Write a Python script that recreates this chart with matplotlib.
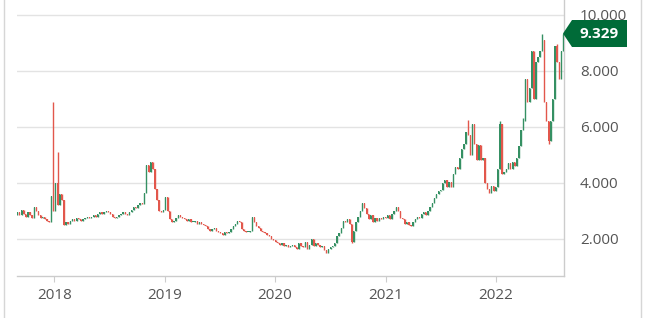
import matplotlib
matplotlib.use("Agg")
import matplotlib.pyplot as plt
import matplotlib.patches as patches
import matplotlib.dates as mdates
from matplotlib.lines import Line2D
from matplotlib.transforms import IdentityTransform
import pandas as pd

plt.rcParams['font.family'] = ['Open Sans', 'DejaVu Sans']

# weekly closes (Fridays)
first_open = 2850
close_2017 = [2950, 2850, 3050, 2900, 2800, 2950, 2850, 2750, 3150, 3000, 2850, 2750,
              2800, 2700, 2650, 2600, 3550, 3000]
close_2018 = [4000, 3200, 3600, 3400,
              2500, 2600, 2550, 2650,
              2700, 2650, 2750, 2700, 2650,
              2700, 2750, 2800, 2750,
              2800, 2850, 2800, 2900,
              2950, 2900, 2950, 3000, 2950,
              2900, 2800, 2750, 2800,
              2850, 2900, 2950, 2900, 2850,
              2950, 3050, 3150, 3100,
              3200, 3300, 3250, 3650,
              4650, 4400, 4750, 4500, 3800,
              3400, 3000, 2950, 3050]
close_2019 = [3500, 3000, 2700, 2600,
              2650, 2750, 2850, 2800,
              2750, 2700, 2650, 2700, 2600,
              2600, 2650, 2550, 2600,
              2550, 2500, 2450, 2350, 2300,
              2350, 2400, 2300, 2250,
              2200, 2150, 2250, 2200,
              2250, 2350, 2450, 2550, 2650,
              2600, 2350, 2300, 2250,
              2250, 2300, 2800, 2600,
              2450, 2400, 2300, 2250, 2200,
              2150, 2100, 2000, 1950]
close_2020 = [1900, 1850, 1800, 1850, 1750,
              1800, 1700, 1750, 1800,
              1700, 1650, 1850, 1750,
              1700, 1900, 1650, 1800,
              2000, 1750, 1850, 1800, 1700,
              1750, 1600, 1500, 1650,
              1700, 1750, 1850, 2100, 2200,
              2400, 2650, 2600, 2700,
              2550, 1900, 2300, 2600,
              2800, 3000, 3300, 3100, 2900,
              2700, 2850, 2600, 2750,
              2650, 2750, 2700, 2800]
close_2021 = [2750, 2850, 2700, 2900, 3000,
              3150, 3000, 2750, 2700,
              2550, 2600, 2500, 2450,
              2600, 2700, 2800, 2750, 2900,
              2950, 2850, 3000, 3150,
              3300, 3450, 3600, 3700,
              3750, 4000, 4100, 3850, 4050,
              3850, 4300, 4550, 4500,
              4900, 5200, 5400, 5800,
              5700, 5000, 6100, 5400, 4800,
              5350, 4800, 4900, 4000,
              3800, 3650, 3900, 3700, 3850]
close_2022 = [4500, 6100, 4300, 4400,
              4500, 4700, 4500, 4750,
              4600, 4900, 5300, 5900,
              6200, 7700, 6900, 7400, 8700,
              7000, 8300, 8500, 8700,
              9100, 6900, 6200, 5500,
              6200, 7000, 8900, 8300, 7700,
              8700, 9329]

# weeks with long wicks
spike_dates = ['2017-12-29', '2018-01-12', '2021-10-01', '2022-01-14',
               '2022-04-01', '2022-06-03', '2022-07-22']
spike_highs = [6870, 5090, 6250, 6200, 6300, 9300, 8950]
dip_dates = ['2020-09-11', '2022-06-24']
dip_lows = [1850, 5400]

y_ticks = [2000, 4000, 6000, 8000, 10000]
year_ticks = ['2018', '2019', '2020', '2021', '2022']

GREEN = '#359063'
RED = '#e2574c'
TAG = '#006b38'
GREY_TXT = '#555555'

closes = close_2017 + close_2018 + close_2019 + close_2020 + close_2021 + close_2022
dates = pd.date_range('2017-09-01', periods=len(closes), freq='7D')
df = pd.DataFrame({'close': closes}, index=dates)
df['open'] = [first_open] + closes[:-1]
df['high'] = df[['open', 'close']].max(axis=1)
df['low'] = df[['open', 'close']].min(axis=1)
for d, h in zip(spike_dates, spike_highs):
    df.loc[pd.Timestamp(d), 'high'] = h
for d, l in zip(dip_dates, dip_lows):
    df.loc[pd.Timestamp(d), 'low'] = l

fig = plt.figure(figsize=(6.5, 3.18), dpi=100)
ax = fig.add_axes([17 / 650, 42.3 / 318, 547 / 650, 275.7 / 318])

x = mdates.date2num(df.index.to_pydatetime())
up = df['close'] >= df['open']
colors = [GREEN if u else RED for u in up]

ax.vlines(x, df['low'], df['high'], colors=colors, linewidth=1.0, zorder=3)
ax.bar(x, (df['close'] - df['open']).abs().clip(lower=25), bottom=df[['open', 'close']].min(axis=1),
       width=4.2, color=colors, linewidth=0, zorder=3)

ax.set_xlim(mdates.date2num(pd.Timestamp('2017-08-31')), mdates.date2num(pd.Timestamp('2022-08-14')))
ax.set_ylim(690, 10524)

ax.set_yticks(y_ticks)
ax.set_yticklabels([f'{v:,}'.replace(',', '.') for v in y_ticks])
ax.yaxis.tick_right()
ax.tick_params(axis='y', length=0, pad=11.5, labelsize=11, labelcolor=GREY_TXT)

ax.set_xticks([mdates.date2num(pd.Timestamp(f'{y}-01-01')) for y in year_ticks])
ax.set_xticklabels(year_ticks)
ax.tick_params(axis='x', length=4.5, width=0.8, color='#cccccc', pad=4, labelsize=11, labelcolor=GREY_TXT)

ax.grid(axis='y', color='#e3e3e3', linewidth=1)
ax.set_axisbelow(True)
for side in ['top', 'left']:
    ax.spines[side].set_visible(False)
for side in ['bottom', 'right']:
    ax.spines[side].set_color('#cccccc')
    ax.spines[side].set_linewidth(1)

# container borders
fig.add_artist(Line2D([3.5 / 650] * 2, [0, 1], transform=fig.transFigure, color='#d6d6d6', lw=1))
fig.add_artist(Line2D([641 / 650] * 2, [0, 1], transform=fig.transFigure, color='#d6d6d6', lw=1))

# last price tag
last = closes[-1]
tip_x, tip_y = ax.transData.transform((ax.get_xlim()[1], last))
tip_x -= 1
h = 13.5
tag = patches.Polygon([(tip_x, tip_y), (tip_x + 9, tip_y + h), (tip_x + 64, tip_y + h),
                       (tip_x + 64, tip_y - h), (tip_x + 9, tip_y - h)],
                      closed=True, facecolor=TAG, edgecolor='none',
                      transform=IdentityTransform(), zorder=10)
fig.add_artist(tag)
fig.text((tip_x + 36) / 650, tip_y / 318, f'{last:,}'.replace(',', '.'), color='white',
         fontsize=11, fontweight='bold', ha='center', va='center', zorder=11)

fig.savefig('out.png', dpi=100)
